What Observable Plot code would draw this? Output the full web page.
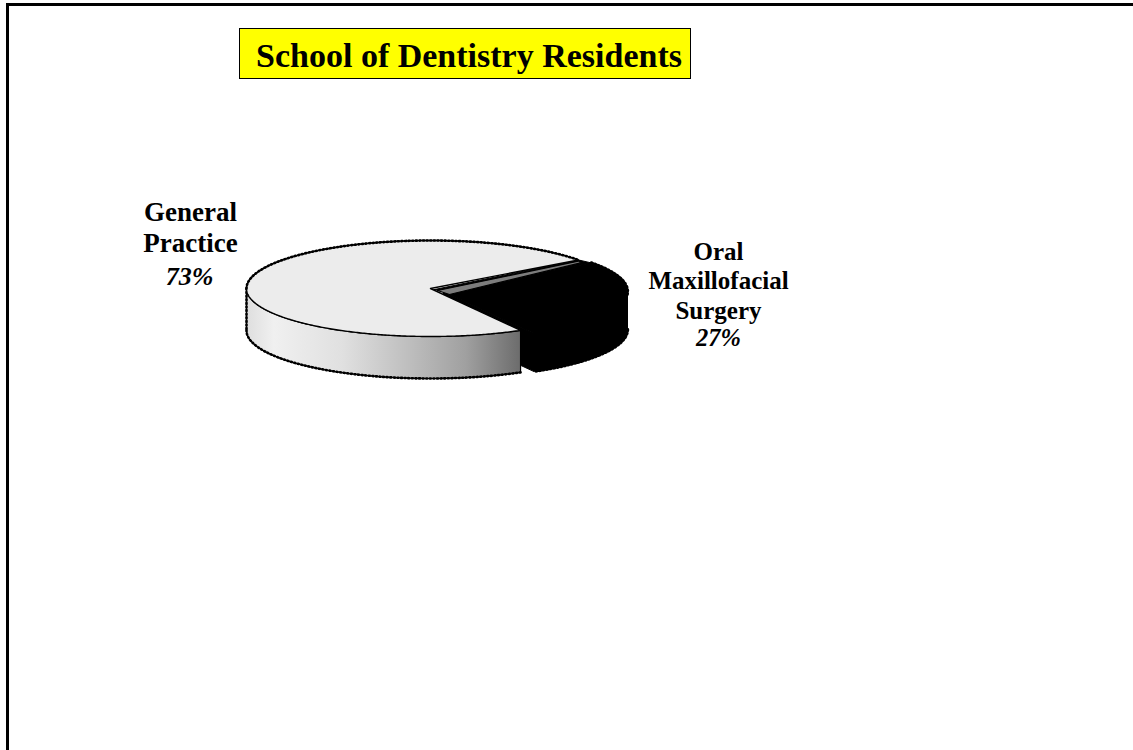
<!DOCTYPE html>
<html><head><meta charset="utf-8">
<script src="https://cdn.jsdelivr.net/npm/d3@7"></script>
<script src="https://cdn.jsdelivr.net/npm/@observablehq/plot@0.6"></script>
<style>
html,body{margin:0;padding:0;background:#fff;overflow:hidden}
#page{position:relative;width:1133px;height:750px;overflow:hidden}
#frame{position:absolute;left:6px;top:3px;right:-10px;bottom:-10px;border:3px solid #000;box-sizing:border-box}
#title{position:absolute;left:239px;top:28px;width:450px;height:49px;background:#ff0;border:1px solid #000;
 font:bold 34px "Liberation Serif",serif;color:#000;line-height:54px;text-align:center;white-space:nowrap;text-indent:8px}
#chart{position:absolute;left:0;top:0}
</style></head><body>
<div id="page"><div id="frame"></div><div id="title">School of Dentistry Residents</div><div id="chart"></div></div>
<script>
const categories = ["General Practice", "Oral Maxillofacial Surgery"];
const shares = [73, 27];
const labelLines = [["General", "Practice"], ["Oral", "Maxillofacial", "Surgery"]];

const W = 1133, H = 750, cx = 430, cy = 288, rx = 184, ry = 48, depth = 42, darkDepth = 38;
const startDeg = 60.7;
const serif = "Liberation Serif";

const pie = d3.pie().sort(null).startAngle(startDeg * Math.PI / 180).endAngle((startDeg + 360) * Math.PI / 180);
const [light, dark] = pie(shares);
const arcPts = (a0, a1, ox = 0, oy = 0) => {
  const n = Math.max(2, Math.ceil(Math.abs(a1 - a0) / 0.01));
  return d3.range(n + 1).map(i => {
    const t = a0 + (a1 - a0) * i / n;
    return {x: rx * Math.cos(t) + ox, y: ry * Math.sin(t) + oy};
  });
};
const down = p => ({x: p.x, y: p.y + depth});
const downDark = p => ({x: p.x, y: p.y + darkDepth});
const closed = pts => [...pts, pts[0]];
const dx = 13, dy = 3;

// exploded dark slice (angles run from the upper cut, clockwise on screen, to the lower cut)
const darkStart = dark.startAngle, darkEnd = dark.endAngle; // darkEnd = lower cut + 360deg
const darkArc = arcPts(darkStart, darkEnd, dx, dy);
const darkFront = arcPts(2 * Math.PI, darkEnd, dx, dy);
const darkTop = closed([{x: dx, y: dy}, ...darkArc]);
const darkWall = closed([...darkFront, ...darkFront.slice().reverse().map(downDark)]);
const lowerCut = darkArc[darkArc.length - 1], upperCut = darkArc[0];
const darkCut = closed([{x: dx, y: dy}, lowerCut, downDark(lowerCut), {x: dx, y: dy + darkDepth}]);

// joins of the two slices
const upper = {x: rx * Math.cos(darkStart), y: ry * Math.sin(darkStart)};
const darkJoin = closed([{x: 4, y: 1}, upper, upperCut, {x: dx, y: dy}]);
const sliver = closed([{x: 7, y: 2}, {x: upper.x + 1, y: upper.y + 1}, {x: upper.x + 2, y: upper.y + 3}, {x: 19, y: 6}]);

// light slice
const lightArc = arcPts(light.startAngle, light.endAngle);
const lightTop = closed([{x: 0, y: 0}, ...lightArc]);
const wallArc = arcPts(light.startAngle, Math.PI);
const wallPoly = closed([...wallArc, ...wallArc.slice().reverse().map(down)]);

const wallGradient = () => {
  const defs = d3.create("svg:defs");
  const g = defs.append("linearGradient").attr("id", "wallGrad").attr("x1", 0).attr("x2", 1).attr("y1", 0).attr("y2", 0);
  [[0, "#dedede"], [0.1, "#f0f0f0"], [0.35, "#e0e0e0"], [0.6, "#bdbdbd"], [0.8, "#a0a0a0"], [1, "#6c6c6c"]]
    .forEach(([o, c]) => g.append("stop").attr("offset", o).attr("stop-color", c));
  return defs.node();
};

const fuzz = {strokeDasharray: "1 2.6", strokeWidth: 3.4, stroke: "#000", fill: "none"};
const line = (pts, o) => Plot.line(pts, {x: "x", y: "y", curve: "linear", ...o});
const solidBlack = {fill: "#000", stroke: "#000", strokeWidth: 1};

const leftRows = labelLines[0].map((s, i) => ({s, x: -240, y: -76 + i * 31}));
const rightRows = labelLines[1].map((s, i) => ({s, x: 288, y: -37 + i * 29.5}));
const textOpts = {x: "x", y: "y", text: "s", fontFamily: serif, fontWeight: "bold", fill: "#000", textAnchor: "middle", lineAnchor: "middle"};

const chart = Plot.plot({
  width: W, height: H, margin: 0,
  style: {background: "transparent"},
  x: {axis: null, domain: [-cx, W - cx], range: [0, W]},
  y: {axis: null, domain: [-cy, H - cy], range: [0, H]},
  marks: [
    wallGradient,
    // dark slice
    line(darkWall, solidBlack),
    line(darkTop, solidBlack),
    line(darkCut, solidBlack),
    line(darkJoin, solidBlack),
    line(darkFront.map(downDark), fuzz),
    line(darkArc, fuzz),
    // inner wall seen between the slices
    line(sliver, {fill: "#7d7d7d", stroke: "#000", strokeWidth: 1.2}),
    // light slice wall
    line(wallPoly, {fill: "url(#wallGrad)", stroke: "#000", strokeWidth: 1.2}),
    line(wallArc.map(down), {...fuzz, strokeWidth: 2.6}),
    line([{x: -rx, y: 0}, {x: -rx, y: depth}], {...fuzz, strokeWidth: 2.6}),
    // light slice top
    line(lightTop, {fill: "#ececec", stroke: "#000", strokeWidth: 1.4}),
    line(arcPts(Math.PI, light.endAngle), {...fuzz, strokeWidth: 2.6}),
    Plot.text(leftRows, {...textOpts, fontSize: 27}),
    Plot.text(rightRows, {...textOpts, fontSize: 25}),
    Plot.text([{s: shares[0] + "%", x: -241, y: -12}], {...textOpts, fontSize: 26, fontStyle: "italic"}),
    Plot.text([{s: shares[1] + "%", x: 288, y: 50}], {...textOpts, fontSize: 24.5, fontStyle: "italic"})
  ]
});
document.getElementById("chart").append(chart);
</script>
</body></html>
